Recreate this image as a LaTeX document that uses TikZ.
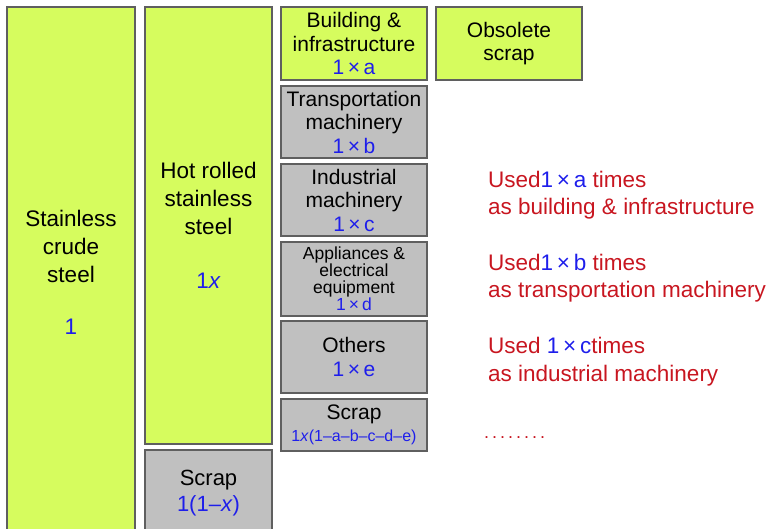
\documentclass[tikz,border=0pt]{standalone}
\usepackage{fontspec}
\setmainfont{Liberation Sans}
\usetikzlibrary{positioning}
\definecolor{boxgreen}{RGB}{214,252,94}
\definecolor{boxgray}{RGB}{192,192,192}
\definecolor{boxline}{RGB}{95,95,95}
\definecolor{valblue}{RGB}{30,30,235}
\definecolor{usedred}{RGB}{200,22,32}
\newcommand{\val}[1]{{\color{valblue}#1}}
\tikzset{
	stock/.style={draw=boxline, line width=1.3pt, outer sep=0pt, inner sep=1pt, align=center, font=\fontsize{21}{23.5}\selectfont},
	greenbox/.style={stock, fill=boxgreen},
	graybox/.style={stock, fill=boxgray},
	usedtext/.style={anchor=base west, align=left, inner sep=0pt, text=usedred, font=\fontsize{22.5}{27.7}\selectfont}
}

\begin{document}
\begin{tikzpicture}[x=1pt, y=-1pt]
	\useasboundingbox (0,0) rectangle (771,529);
	% first two columns
	\node[greenbox, anchor=north west, minimum width=128pt, minimum height=530pt, font=\fontsize{22.5}{28}\selectfont] (crude) at (7,7) {Stainless\\crude\\steel\\[24pt]\val{1}};
	\node[greenbox, anchor=north west, minimum width=127pt, minimum height=437pt, font=\fontsize{22.5}{28}\selectfont] (hot) at (145,7) {Hot rolled\\stainless\\steel\\[26pt]\val{1\textit{x}}};
	\node[graybox, below=6pt of hot, minimum width=127pt, minimum height=86pt, font=\fontsize{22}{26}\selectfont] (scrap1) {Scrap\\\val{1(1–\textit{x})}};
	
	% end uses
	\node[greenbox, anchor=north west, minimum width=146pt, minimum height=73pt] (build) at (281,7) {Building \&\\infrastructure\\\val{1\,×\,a}};
	\node[graybox, below=6pt of build, minimum width=146pt, minimum height=72pt] (trans) {Transportation\\machinery\\\val{1\,×\,b}};
	\node[graybox, below=6pt of trans, minimum width=146pt, minimum height=72pt] (indus) {Industrial\\machinery\\\val{1\,×\,c}};
	\node[graybox, below=6pt of indus, minimum width=146pt, minimum height=74pt, font=\fontsize{17.5}{17}\selectfont] (appl) {Appliances \&\\electrical\\equipment\\\val{1\,×\,d}};
	\node[graybox, below=5pt of appl, minimum width=146pt, minimum height=72pt] (others) {Others\\[1pt]\val{1\,×\,e}};
	\node[graybox, below=6pt of others, minimum width=146pt, minimum height=52pt, font=\fontsize{21}{22}\selectfont] (scrap2) {Scrap\\\val{\fontsize{16}{16}\selectfont 1\textit{x}(1–a–b–c–d–e)}};
	
	\node[greenbox, right=9pt of build, minimum width=146pt, minimum height=73pt] (obs) {Obsolete\\scrap};
	
	% notes (anchored at the second line)
	\node[usedtext] (useda) at (488,215) {Used\val{1\,×\,a} times\\as building \& infrastructure};
	\node[usedtext] (usedb) at (488,298) {Used\val{1\,×\,b} times\\as transportation machinery};
	\node[usedtext] (usedc) at (488,381) {Used \val{1\,×\,c}times\\as industrial machinery};
	\node[usedtext] (dots) at (484,438) {\fontsize{18}{18}\selectfont .\,.\,.\,.\,.\,.\,.\,.};
\end{tikzpicture}
\end{document}
